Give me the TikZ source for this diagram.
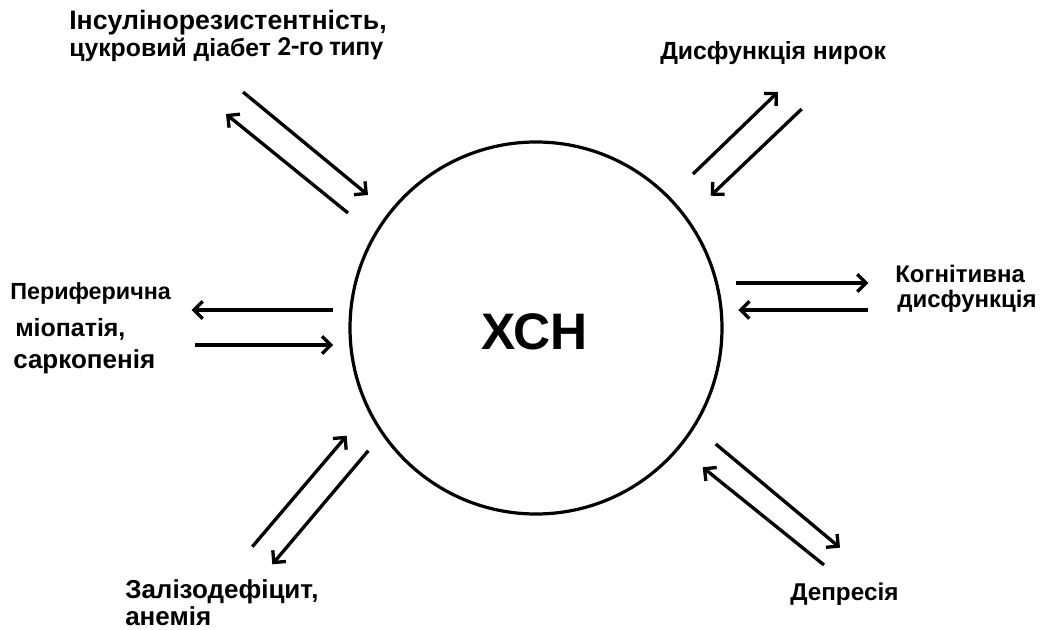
\documentclass[tikz,border=0pt]{standalone}
\usepackage{fontspec}
\setmainfont{Liberation Sans}
\newfontfamily\calibfont{Carlito}
\usetikzlibrary{arrows.meta}
\newcommand\fsz[1]{\bfseries\fontsize{#1}{22}\selectfont}
\begin{document}
\begin{tikzpicture}[x=0.75pt,y=-0.75pt,
  arr/.style={line width=2.5pt,-{Straight Barb[length=6.5pt,width=13pt,line width=2.5pt]}},
  lbl/.style={font=\fsz{19},anchor=base west,inner sep=0pt}]
\useasboundingbox (0,0) rectangle (1042,630);
% central circle
\node (hf) [draw,circle,line width=2.4pt,minimum size=279pt,inner sep=0pt] at (536,328) {};
\node (hftext) [font=\bfseries\fontsize{38.5}{44}\selectfont,inner sep=0pt] at (534.5,331.5) {ХСН};
% labels
\node (ins1) [lbl,font=\fsz{20}] at (69,30) {Інсулінорезистентність,};
\node (ins2) [lbl,font=\fsz{18.6}] at (69,57) {цукровий діабет};
\node (ins3) [lbl,font=\calibfont\bfseries\fontsize{20.5}{24}\selectfont] at (277,56) {2-го типу};
\node (kid) [lbl,font=\fsz{18.6}] at (660,60) {Дисфункція нирок};
\node (kog1) [lbl,font=\fsz{18}] at (895,283) {Когнітивна};
\node (kog2) [lbl,font=\fsz{18}] at (897,308) {дисфункція};
\node (per1) [lbl,font=\fsz{17.5}] at (10,300) {Периферична};
\node (per2) [lbl,font=\fsz{18.7}] at (15,337) {міопатія,};
\node (per3) [lbl,font=\fsz{19.5}] at (13,369) {саркопенія};
\node (zal1) [lbl,font=\fsz{19.5}] at (125,598) {Залізодефіцит,};
\node (zal2) [lbl,font=\fsz{19.5}] at (125,625) {анемія};
\node (dep) [lbl,font=\fsz{18.2}] at (790,600) {Депресія};
% arrow end points
\coordinate (tl1s) at (243,92);    \coordinate (tl1e) at (368,195);
\coordinate (tl2s) at (348,213);   \coordinate (tl2e) at (226,114);
\coordinate (tr1s) at (693,174);   \coordinate (tr1e) at (778,92);
\coordinate (tr2s) at (801.7,109); \coordinate (tr2e) at (710.7,195.7);
\coordinate (r1s) at (736,283);    \coordinate (r1e) at (868.3,283);
\coordinate (r2s) at (867.7,310);  \coordinate (r2e) at (738.3,310);
\coordinate (l1s) at (333,310);    \coordinate (l1e) at (191.7,310);
\coordinate (l2s) at (195,345);    \coordinate (l2e) at (333,345);
\coordinate (bl1s) at (252.3,546.7); \coordinate (bl1e) at (346.7,435.7);
\coordinate (bl2s) at (368.3,450.7); \coordinate (bl2e) at (272.3,564.3);
\coordinate (br1s) at (715.7,444); \coordinate (br1e) at (840,547.7);
\coordinate (br2s) at (824,565);   \coordinate (br2e) at (702.7,467.3);
% arrows
\draw[arr] (tl1s) -- (tl1e);
\draw[arr] (tl2s) -- (tl2e);
\draw[arr] (tr1s) -- (tr1e);
\draw[arr] (tr2s) -- (tr2e);
\draw[arr] (r1s) -- (r1e);
\draw[arr] (r2s) -- (r2e);
\draw[arr] (l1s) -- (l1e);
\draw[arr] (l2s) -- (l2e);
\draw[arr] (bl1s) -- (bl1e);
\draw[arr] (bl2s) -- (bl2e);
\draw[arr] (br1s) -- (br1e);
\draw[arr] (br2s) -- (br2e);
\end{tikzpicture}
\end{document}
